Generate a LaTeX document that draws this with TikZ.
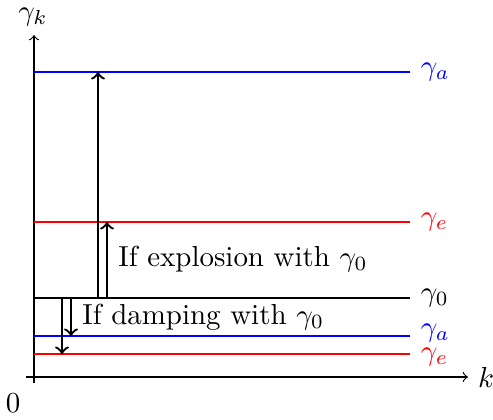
\documentclass[tikz,border=0pt]{standalone}
\begin{document}
\begin{tikzpicture}[x=0.3455pt,y=-0.3455pt,
  level/.style={thick},
  jump/.style={thick,->},
  axis/.style={->}]
\useasboundingbox (0,0) rectangle (493,420);
\coordinate (O) at (34,377);
\coordinate (xstart) at (26,377);
\coordinate (ystart) at (34,383);
\coordinate (xend) at (468,377);
\coordinate (yend) at (34,35);
\draw[axis] (xstart) -- (xend) node[right] (klab) {$k$};
\draw[axis] (ystart) -- (yend);
\node[inner sep=1pt] (gklab) at (33,17) {$\gamma_k$};
\node (zero) at (13,403) {$0$};
% levels
\coordinate (a1s) at (34,72);  \coordinate (a1e) at (410,72);
\coordinate (e1s) at (34,222); \coordinate (e1e) at (410,222);
\coordinate (g0s) at (34,298); \coordinate (g0e) at (410,298);
\coordinate (a2s) at (34,336); \coordinate (a2e) at (410,336);
\coordinate (e2s) at (34,354); \coordinate (e2e) at (410,354);
\draw[level,blue] (a1s) -- (a1e) node[right] (la1) {$\gamma_a$};
\draw[level,red] (e1s) -- (e1e) node[right] (le1) {$\gamma_e$};
\draw[level,black] (g0s) -- (g0e) node[right] (lg0) {$\gamma_0$};
\draw[level,blue] (a2s) -- (a2e) node[right,yshift=1pt] (la2) {$\gamma_a$};
\draw[level,red] (e2s) -- (e2e) node[right,yshift=-1pt] (le2) {$\gamma_e$};
% arrows
\coordinate (u1s) at (98,298); \coordinate (u1e) at (98,72);
\coordinate (u2s) at (107,298); \coordinate (u2e) at (107,222);
\coordinate (d1s) at (71,298); \coordinate (d1e) at (71,336);
\coordinate (d2s) at (62,298); \coordinate (d2e) at (62,354);
\draw[jump] (u1s) -- (u1e);
\draw[jump] (u2s) -- (u2e);
\draw[jump] (d1s) -- (d1e);
\draw[jump] (d2s) -- (d2e);
\node[right,inner sep=2pt] (expl) at (112,259) {If explosion with $\gamma_0$};
\node[right,inner sep=2pt] (damp) at (76,317) {If damping with $\gamma_0$};
\end{tikzpicture}
\end{document}
